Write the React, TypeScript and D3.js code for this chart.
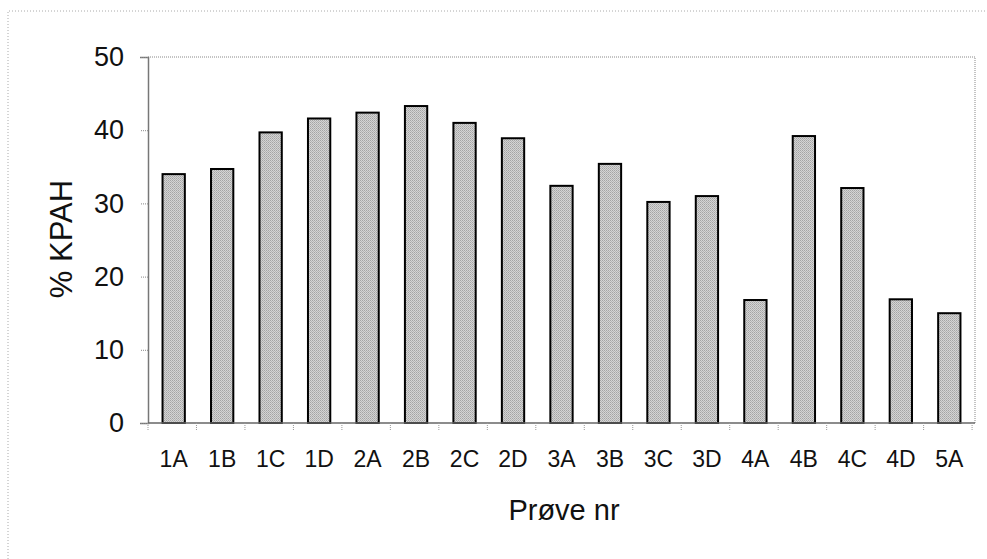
import * as d3 from "d3";
import { useEffect, useRef } from "react";

const categories = ["1A", "1B", "1C", "1D", "2A", "2B", "2C", "2D", "3A", "3B", "3C", "3D", "4A", "4B", "4C", "4D", "5A"];
const kpah = [34.0, 34.7, 39.7, 41.6, 42.4, 43.3, 41.0, 38.9, 32.4, 35.4, 30.2, 31.0, 16.8, 39.2, 32.1, 16.9, 15.0];
const yTicks = [0, 10, 20, 30, 40, 50];

const width = 987;
const height = 559;
const margin = { top: 57, left: 148, right: 12, bottom: 136 };
const font = "'Liberation Sans', Arial, sans-serif";

export default function App() {
  const ref = useRef<SVGSVGElement>(null);

  useEffect(() => {
    const svg = d3.select(ref.current);
    svg.selectAll("*").remove();

    const innerWidth = width - margin.left - margin.right;
    const innerHeight = height - margin.top - margin.bottom;
    const x0 = margin.left;
    const y0 = margin.top + innerHeight;

    const x = d3
      .scaleBand<string>()
      .domain(categories)
      .range([margin.left, margin.left + innerWidth])
      .paddingInner(0.54)
      .paddingOuter(0.3);

    const y = d3.scaleLinear().domain([0, 50]).range([y0, margin.top]);

    // stipple pattern for the bars
    const pat = svg
      .append("defs")
      .append("pattern")
      .attr("id", "stip")
      .attr("width", 2)
      .attr("height", 2)
      .attr("patternUnits", "userSpaceOnUse");
    pat.append("rect").attr("width", 2).attr("height", 2).attr("fill", "#d4d4d4");
    pat.append("rect").attr("width", 1).attr("height", 1).attr("fill", "#a4a4a4");
    pat.append("rect").attr("x", 1).attr("y", 1).attr("width", 1).attr("height", 1).attr("fill", "#b4b4b4");

    // faint page frame from the scan
    svg
      .append("path")
      .attr("d", `M8,${height} V11 H${width}`)
      .attr("fill", "none")
      .attr("stroke", "#aaa")
      .attr("stroke-dasharray", "1 2");

    // plot area border (top, right)
    svg
      .append("path")
      .attr("d", `M${x0},${margin.top} H${x0 + innerWidth} V${y0}`)
      .attr("fill", "none")
      .attr("stroke", "#888")
      .attr("stroke-dasharray", "1 1");

    // bars
    svg
      .append("g")
      .selectAll("rect")
      .data(kpah)
      .join("rect")
      .attr("x", (_, i) => x(categories[i])!)
      .attr("y", (d) => y(d))
      .attr("width", x.bandwidth())
      .attr("height", (d) => y0 - y(d))
      .attr("fill", "url(#stip)")
      .attr("stroke", "#000")
      .attr("stroke-width", 2);

    // y axis
    const yAxis = svg
      .append("g")
      .attr("transform", `translate(${x0},0)`)
      .call(d3.axisLeft(y).tickValues(yTicks).tickSize(8).tickPadding(16));
    yAxis.select(".domain").attr("stroke", "#777").attr("stroke-width", 1.5);
    yAxis.selectAll(".tick line").attr("stroke", "#888").attr("stroke-dasharray", "1 1");
    yAxis
      .selectAll(".tick text")
      .attr("font-family", font)
      .attr("font-size", 27)
      .attr("fill", "#111");

    // x axis line
    svg
      .append("line")
      .attr("x1", x0)
      .attr("x2", x0 + innerWidth)
      .attr("y1", y0)
      .attr("y2", y0)
      .attr("stroke", "#666")
      .attr("stroke-width", 1.5);

    // ticks between categories
    const step = x.step();
    const bounds = d3.range(categories.length + 1).map((i) => margin.left + i * step);
    svg
      .append("g")
      .selectAll("line")
      .data(bounds)
      .join("line")
      .attr("x1", (d) => d)
      .attr("x2", (d) => d)
      .attr("y1", y0)
      .attr("y2", y0 + 7)
      .attr("stroke", "#999")
      .attr("stroke-dasharray", "1 1");

    // category labels
    svg
      .append("g")
      .selectAll("text")
      .data(categories)
      .join("text")
      .attr("x", (d) => x(d)! + x.bandwidth() / 2)
      .attr("y", 467)
      .attr("text-anchor", "middle")
      .attr("font-family", font)
      .attr("font-size", 23)
      .attr("fill", "#111")
      .text((d) => d);

    // axis titles
    svg
      .append("text")
      .attr("x", 564)
      .attr("y", 520)
      .attr("text-anchor", "middle")
      .attr("font-family", font)
      .attr("font-size", 29)
      .attr("fill", "#111")
      .text("Prøve nr");

    svg
      .append("text")
      .attr("transform", `translate(72,239) rotate(-90)`)
      .attr("text-anchor", "middle")
      .attr("font-family", font)
      .attr("font-size", 31)
      .attr("fill", "#111")
      .text("% KPAH");
  }, []);

  return (
    <svg
      ref={ref}
      width={width}
      height={height}
      style={{ position: "absolute", left: 0, top: 0, background: "#fff" }}
    />
  );
}
